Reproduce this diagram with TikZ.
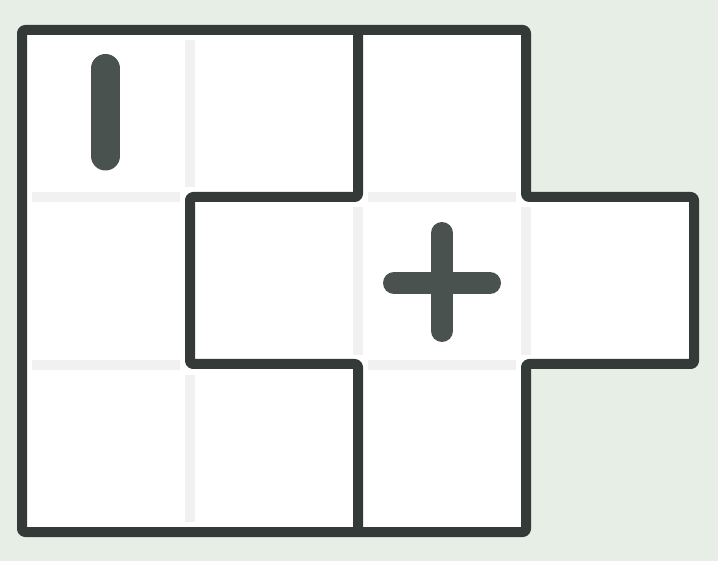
\documentclass[tikz,border=0pt]{standalone}
\definecolor{bgcol}{HTML}{E6EEE6}
\definecolor{wallcol}{HTML}{343A37}
\definecolor{cluecol}{HTML}{4A524F}
\definecolor{seamcol}{HTML}{F1F1F1}
\begin{document}
\begin{tikzpicture}[x=1pt,y=-1pt,
    wall/.style={wallcol,line width=10,line join=round,rounded corners=3},
    seam/.style={seamcol,line width=10},
    clue/.style={cluecol,line cap=round}]
  \useasboundingbox (0,0) rectangle (718,561);
  \fill[bgcol] (0,0) rectangle (718,561);
  % white cells
  \foreach \c/\r in {0/0,1/0,2/0,0/1,1/1,2/1,3/1,0/2,1/2,2/2}
    \fill[white] (22+168*\c,30+167.3*\r) rectangle +(168,167.3);
  % light seams inside a region
  \foreach \c/\r in {0/1,0/2,2/1,2/2}
    \draw[seam] (32+168*\c,30+167.3*\r) -- +(148,0);
  \foreach \c/\r in {1/0,1/2,2/1,3/1}
    \draw[seam] (22+168*\c,40+167.3*\r) -- +(0,147.3);
  % region walls
  \draw[wall] (22,30) -- (526,30) -- (526,197) -- (694,197) -- (694,364)
    -- (526,364) -- (526,532) -- (22,532) -- cycle;
  \draw[wall] (358,30) -- (358,197) -- (190,197) -- (190,364) -- (358,364)
    -- (358,532);
  % clues
  \draw[clue,line width=29] (105.5,68.5) -- (105.5,156);
  \draw[clue,line width=22] (442,233) -- (442,331);
  \draw[clue,line width=22] (394,283) -- (490,283);
\end{tikzpicture}
\end{document}
